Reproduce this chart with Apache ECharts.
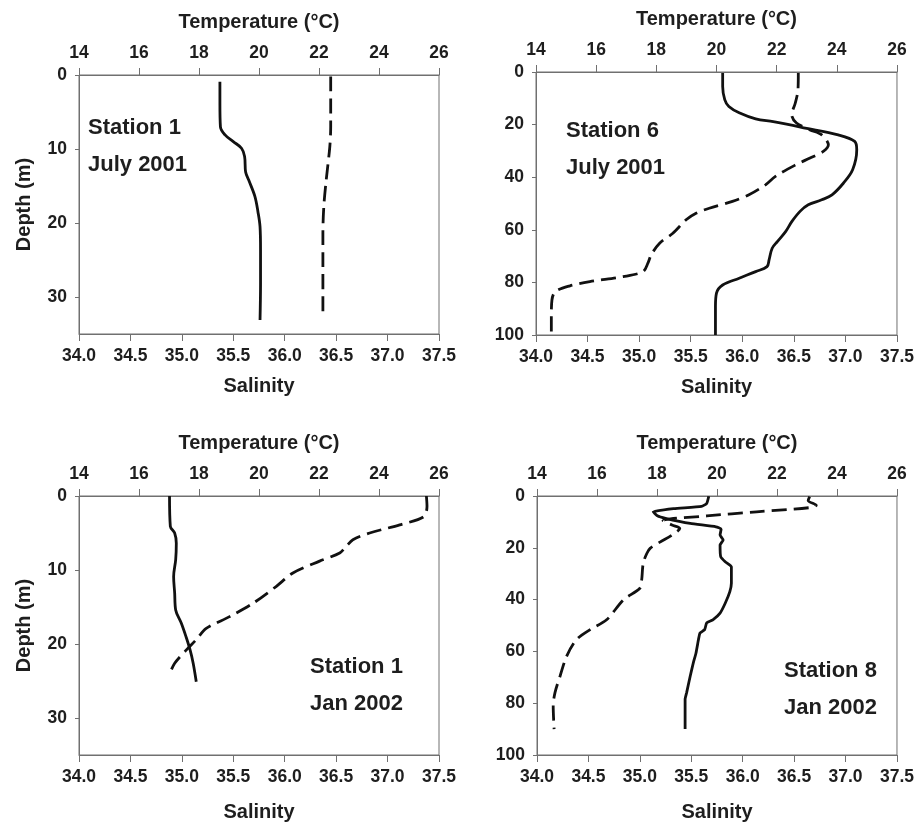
<!DOCTYPE html>
<html>
<head>
<meta charset="utf-8">
<script src="https://cdn.jsdelivr.net/npm/echarts@6/dist/echarts.min.js"></script>
<style>
  html, body { margin: 0; padding: 0; background: #fff; }
  #chart { width: 917px; height: 823px; }
</style>
</head>
<body>
<div id="chart"></div>
<script>
// profiles: [value, depth (m)]; solid = salinity (bottom axis), dashed = temperature (top axis)
const st1JulySal = [[35.37, 0.9], [35.37, 4], [35.375, 7.0], [35.42, 8.1], [35.5, 9.0], [35.58, 9.9], [35.61, 11.0],
  [35.62, 13.1], [35.65, 14.2], [35.71, 16.4], [35.74, 18.5], [35.76, 20.5], [35.765, 23.7], [35.765, 28.2], [35.76, 33.1]];
const st1JulyTemp = [[22.39, 0.2], [22.39, 7], [22.36, 9.7], [22.24, 14.2], [22.16, 17.8], [22.13, 21.4], [22.13, 25.9], [22.13, 32.2]];

const st6JulySal = [[35.81, 0.4], [35.81, 5.5], [35.83, 10.5], [35.87, 13.1], [35.97, 15.5], [36.13, 17.8], [36.3, 18.9],
  [36.61, 21.3], [36.93, 23.9], [37.09, 26.4], [37.11, 29.6], [37.07, 37.2], [36.98, 42.3], [36.87, 46.7], [36.77, 48.6],
  [36.64, 50.5], [36.56, 53], [36.48, 56.9], [36.42, 60.7], [36.34, 64.5], [36.29, 67], [36.26, 71.4], [36.24, 74],
  [36.13, 75.9], [35.97, 78.4], [35.81, 81], [35.75, 84.1], [35.74, 89.2], [35.74, 100]];
const st6JulyTemp = [[22.72, 0.4], [22.71, 6.7], [22.62, 11.8], [22.5, 16.3], [22.66, 19.4], [23.11, 22], [23.5, 23.9],
  [23.72, 27.7], [23.55, 30.2], [23.11, 32.7], [22.6, 35.5], [21.96, 39.7], [21.63, 42.9], [21.08, 46.7], [20.53, 49.2],
  [19.76, 51.8], [19.32, 53.7], [18.99, 56.2], [18.55, 61.3], [18.11, 65.1], [17.83, 69.5], [17.72, 72.7], [17.56, 75.9],
  [16.9, 77.8], [15.79, 79.7], [15.13, 81.3], [14.64, 83.5], [14.53, 86.7], [14.51, 93], [14.51, 100]];

const st1JanSal = [[34.88, 0], [34.888, 4.1], [34.93, 5.0], [34.946, 6.4], [34.94, 8.6], [34.92, 10.9], [34.93, 13.1],
  [34.94, 15.4], [34.995, 17.2], [35.04, 19], [35.08, 20.8], [35.11, 22.6], [35.14, 25.1]];
const st1JanTemp = [[25.58, 0], [25.6, 1.4], [25.49, 2.8], [24.69, 3.9], [23.69, 5.0], [23.13, 5.9], [22.91, 6.8],
  [22.69, 7.7], [22.02, 8.8], [21.13, 10.4], [20.58, 12.2], [19.8, 14.5], [19.02, 16.3], [18.24, 17.9], [17.91, 19.4],
  [17.58, 20.8], [17.19, 22.6], [17.0, 24.2]];

const st8JanSal = [[35.67, 0.1], [35.65, 2.9], [35.6, 4.0], [35.33, 4.9], [35.13, 6.1], [35.17, 7.6], [35.25, 8.6],
  [35.49, 10.6], [35.74, 11.9], [35.79, 12.8], [35.78, 15.1], [35.81, 17], [35.78, 18.9], [35.786, 23.4], [35.83, 25.4],
  [35.89, 27.3], [35.89, 33.7], [35.875, 36.9], [35.83, 41.4], [35.78, 45.2], [35.71, 47.8], [35.65, 49], [35.63, 51.6],
  [35.585, 52.9], [35.57, 55.4], [35.546, 60.6], [35.52, 64.4], [35.49, 69.5], [35.455, 75.9], [35.44, 78.5], [35.44, 90]];
const st8JanTemp = [[23.09, 0.2], [23.04, 1.7], [23.31, 3.6], [23.09, 4.5], [21.32, 6.1], [19.66, 7.7], [18.2, 9.5],
  [18.5, 11.2], [18.76, 12.5], [18.5, 15.1], [18.1, 17.8], [17.77, 20.2], [17.66, 22.2], [17.54, 26], [17.49, 32.4],
  [17.43, 35.6], [16.88, 40.1], [16.32, 47.8], [15.77, 51.6], [15.32, 55.4], [14.99, 61.8], [14.77, 69.5], [14.6, 75.9],
  [14.54, 81], [14.57, 90]];

const panels = [
  { sal: st1JulySal, temp: st1JulyTemp, depthMax: 35, depthStep: 10, label: ['Station 1', 'July 2001'], depthName: true,
    rect: { left: 79, top: 75, width: 360, height: 259 }, textPos: [88, 128] },
  { sal: st6JulySal, temp: st6JulyTemp, depthMax: 100, depthStep: 20, label: ['Station 6', 'July 2001'], depthName: false,
    rect: { left: 536, top: 72, width: 363, height: 263 }, textPos: [566, 131] },
  { sal: st1JanSal, temp: st1JanTemp, depthMax: 35, depthStep: 10, label: ['Station 1', 'Jan 2002'], depthName: true,
    rect: { left: 79, top: 496, width: 360, height: 259 }, textPos: [310, 667] },
  { sal: st8JanSal, temp: st8JanTemp, depthMax: 100, depthStep: 20, label: ['Station 8', 'Jan 2002'], depthName: false,
    rect: { left: 537, top: 496, width: 360, height: 260 }, textPos: [784, 671] }
];

const font = '"Liberation Sans", Arial, sans-serif';
const textColor = '#1e1e1e';
const axisColor = '#707070';

let chart = echarts.init(document.getElementById('chart'), null, { renderer: 'canvas' });

let grid = [], xAxis = [], yAxis = [], series = [], graphic = [];

panels.forEach(function (p, i) {
  grid.push(Object.assign({ show: true, borderColor: axisColor, borderWidth: 1, backgroundColor: '#fff' }, p.rect));

  // top axis: temperature
  xAxis.push({
    type: 'value', gridIndex: i, position: 'top', min: 14, max: 26, interval: 2,
    name: 'Temperature (°C)', nameLocation: 'middle', nameGap: 43,
    nameTextStyle: { fontFamily: font, fontWeight: 'bold', fontSize: 20, color: textColor },
    axisLine: { show: true, lineStyle: { color: axisColor, width: 1 } },
    axisTick: { show: true, inside: false, length: 7, lineStyle: { color: axisColor } },
    axisLabel: { margin: 13, fontFamily: font, fontWeight: 'bold', fontSize: 17.5, color: textColor },
    splitLine: { show: false }
  });
  // bottom axis: salinity
  xAxis.push({
    type: 'value', gridIndex: i, position: 'bottom', min: 34, max: 37.5, interval: 0.5,
    name: 'Salinity', nameLocation: 'middle', nameGap: i < 2 ? 42 : 47,
    nameTextStyle: { fontFamily: font, fontWeight: 'bold', fontSize: 20, color: textColor },
    axisLine: { show: true, onZero: false, lineStyle: { color: axisColor, width: 1 } },
    axisTick: { show: true, inside: false, length: 7, lineStyle: { color: axisColor } },
    axisLabel: {
      margin: 13, fontFamily: font, fontWeight: 'bold', fontSize: 17.5, color: textColor,
      formatter: function (v) { return v.toFixed(1); }
    },
    splitLine: { show: false }
  });
  yAxis.push({
    type: 'value', gridIndex: i, inverse: true, min: 0, max: p.depthMax, interval: p.depthStep,
    name: p.depthName ? 'Depth (m)' : '', nameLocation: 'middle', nameGap: 45,
    nameTextStyle: { fontFamily: font, fontWeight: 'bold', fontSize: 20, color: textColor },
    axisLine: { show: true, onZero: false, lineStyle: { color: axisColor, width: 1 } },
    axisTick: { show: true, inside: false, length: 4, lineStyle: { color: axisColor } },
    axisLabel: {
      margin: 12, fontFamily: font, fontWeight: 'bold', fontSize: 17.5, color: textColor, showMaxLabel: p.depthMax % p.depthStep === 0,
      formatter: function (v) { return v % p.depthStep === 0 ? String(v) : ''; }
    },
    splitLine: { show: false }
  });

  series.push({
    type: 'line', xAxisIndex: i * 2 + 1, yAxisIndex: i, data: p.sal,
    showSymbol: false, smooth: i === 3 ? 0.15 : 0.35, silent: true,
    lineStyle: { color: '#111', width: 2.8, type: 'solid' }
  });
  series.push({
    type: 'line', xAxisIndex: i * 2, yAxisIndex: i, data: p.temp,
    showSymbol: false, smooth: 0.3, silent: true,
    lineStyle: { color: '#111', width: 2.8, type: [15, 7] }
  });

  p.label.forEach(function (t, k) {
    graphic.push({
      type: 'text', x: p.textPos[0], y: p.textPos[1] + k * 37, z: 100,
      style: { text: t, font: 'bold 22px ' + font, fill: textColor, verticalAlign: 'middle' }
    });
  });
});

let option = {
  animation: false,
  backgroundColor: '#fff',
  grid: grid,
  xAxis: xAxis,
  yAxis: yAxis,
  series: series,
  graphic: graphic
};
chart.setOption(option);
</script>
</body>
</html>
